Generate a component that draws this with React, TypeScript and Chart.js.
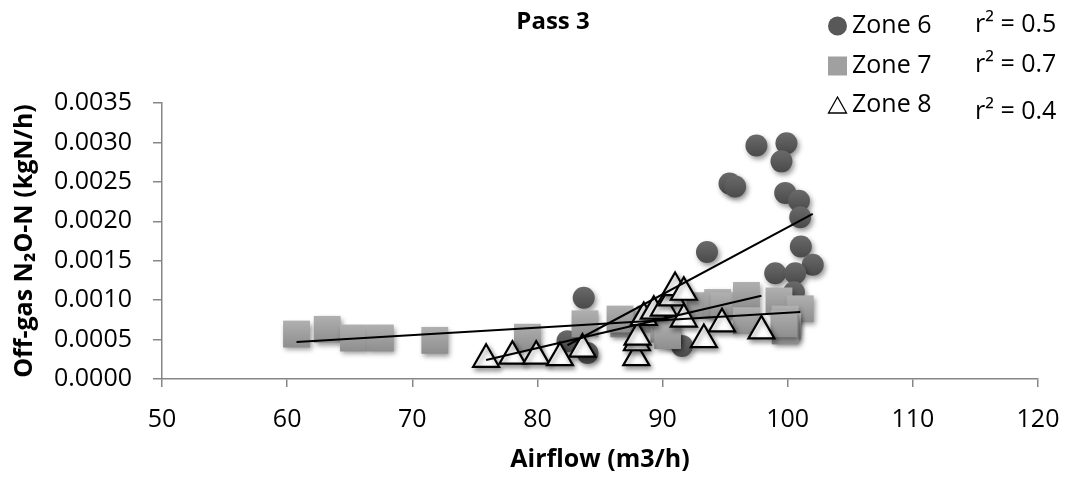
import React, { useEffect, useRef } from "react";
import { Chart, registerables } from "chart.js";

Chart.register(...registerables);

// ---------- data ----------
const zone6X = [97.5, 99.9, 99.5, 95.35, 95.8, 99.8, 100.9, 101.0, 101.05, 93.55, 102.0, 99.0, 100.6, 100.5, 83.7, 82.4, 84.0, 91.55, 90.6];
const zone6Y = [0.00296, 0.00299, 0.00276, 0.00248, 0.00244, 0.00236, 0.00226, 0.00205, 0.00168, 0.00161, 0.00145, 0.00134, 0.00134, 0.0011, 0.00103, 0.00048, 0.00033, 0.00042, 0.00053];

const zone7X = [60.75, 63.2, 65.3, 67.45, 71.8, 79.2, 83.8, 86.9, 86.6, 89.0, 90.1, 90.4, 93.0, 94.4, 94.9, 96.7, 96.7, 99.3, 101.0, 99.8, 100.0, 99.8, 99.7];
const zone7Y = [0.00057, 0.00063, 0.00052, 0.00052, 0.00049, 0.00053, 0.0007, 0.0007, 0.00076, 0.00076, 0.00063, 0.00055, 0.00093, 0.00097, 0.00093, 0.00106, 0.00074, 0.00099, 0.00089, 0.00076, 0.00067, 0.00061, 0.0007];

const zone8X = [75.9, 78.0, 79.9, 81.8, 83.6, 87.9, 87.95, 88.0, 88.5, 89.3, 90.1, 90.75, 91.0, 91.7, 91.7, 93.3, 94.75, 97.9];
const zone8Y = [0.00025, 0.00029, 0.00029, 0.00027, 0.00038, 0.00027, 0.00046, 0.00053, 0.00078, 0.00086, 0.0009, 0.00103, 0.00116, 0.0011, 0.00076, 0.0005, 0.0007, 0.00061];

// linear trendline coefficients (y = slope * x + intercept)
const trendSlopes = [8.5e-5, 9.45e-6, 3.71e-5];
const trendIntercepts = [-0.006576, -0.000104, -0.002576];

const seriesNames = ["Zone 6", "Zone 7", "Zone 8"];
const r2Labels = ["r\u00B2 = 0.5", "r\u00B2 = 0.7", "r\u00B2 = 0.4"];

const xTicks = [50, 60, 70, 80, 90, 100, 110, 120];
const yTicks = [0, 0.0005, 0.001, 0.0015, 0.002, 0.0025, 0.003, 0.0035];
const yTickLabels = ["0.0000", "0.0005", "0.0010", "0.0015", "0.0020", "0.0025", "0.0030", "0.0035"];

const chartTitle = "Pass 3";
const xTitle = "Airflow (m3/h)";
const yTitle = "Off-gas N\u2082O-N (kgN/h)";

// ---------- styles ----------
const FONT = "'Open Sans', 'Noto Sans', sans-serif";
const AXIS_COLOR = "#868686";
const C6 = "#585858";
const C6_TOP = "#6a6a6a";
const C6_BOTTOM = "#4a4a4a";
const C7 = "#a0a0a0";
const C7_TOP = "#b0b0b0";
const C7_BOTTOM = "#8e8e8e";

const toPoints = (xs: number[], ys: number[]) => xs.map((x, i) => ({ x, y: ys[i] }));

const trendPoints = (xs: number[], k: number) => {
  const lo = Math.min(...xs);
  const hi = Math.max(...xs);
  return [
    { x: lo, y: trendSlopes[k] * lo + trendIntercepts[k] },
    { x: hi, y: trendSlopes[k] * hi + trendIntercepts[k] },
  ];
};

// vertical gradient fill for a marker, positioned at the point's pixel
const gradientFill = (top: string, bottom: string, fallback: string, half: number) => (c: any) => {
  const chart = c.chart;
  if (!c.parsed || !chart.scales || !chart.scales.y) return fallback;
  const py = chart.scales.y.getPixelForValue(c.parsed.y);
  if (!isFinite(py)) return fallback;
  const g = chart.ctx.createLinearGradient(0, py - half, 0, py + half);
  g.addColorStop(0, top);
  g.addColorStop(1, bottom);
  return g;
};

const shadowPlugin = {
  id: "markerShadow",
  beforeDatasetDraw(chart: any, args: any) {
    const ds = chart.data.datasets[args.index];
    if (ds.shadow) {
      const ctx = chart.ctx;
      ctx.save();
      ctx.shadowColor = "rgba(0,0,0,0.4)";
      ctx.shadowBlur = 5;
      ctx.shadowOffsetX = 2;
      ctx.shadowOffsetY = 3;
    }
  },
  afterDatasetDraw(chart: any, args: any) {
    const ds = chart.data.datasets[args.index];
    if (ds.shadow) chart.ctx.restore();
  },
};

const decorPlugin = {
  id: "decor",
  afterDraw(chart: any) {
    const ctx = chart.ctx as CanvasRenderingContext2D;
    ctx.save();
    // title
    ctx.fillStyle = "#000";
    ctx.font = `bold 24px ${FONT}`;
    ctx.textAlign = "center";
    ctx.textBaseline = "middle";
    ctx.fillText(chartTitle, 553, 22);

    // legend
    const rowY = [26, 66, 105];
    const r2Y = [25, 65, 112];
    const mx = 837.5;
    ctx.fillStyle = C6;
    ctx.beginPath();
    ctx.arc(mx, rowY[0], 9.5, 0, Math.PI * 2);
    ctx.fill();
    ctx.fillStyle = C7;
    ctx.fillRect(mx - 9.5, rowY[1] - 9.5, 19, 19);
    ctx.fillStyle = "#fff";
    ctx.strokeStyle = "#000";
    ctx.lineWidth = 1.3;
    ctx.beginPath();
    ctx.moveTo(mx, rowY[2] - 8);
    ctx.lineTo(mx + 9, rowY[2] + 8);
    ctx.lineTo(mx - 9, rowY[2] + 8);
    ctx.closePath();
    ctx.fill();
    ctx.stroke();

    ctx.fillStyle = "#000";
    ctx.font = `25px ${FONT}`;
    ctx.textAlign = "left";
    seriesNames.forEach((n, i) => ctx.fillText(n, 852, rowY[i]));
    r2Labels.forEach((t, i) => ctx.fillText(t, 975, r2Y[i]));
    ctx.restore();
  },
};

export default function App() {
  const ref = useRef<HTMLCanvasElement | null>(null);

  useEffect(() => {
    if (!ref.current) return;
    const chart = new Chart(ref.current, {
      type: "scatter",
      data: {
        datasets: [
          { label: "Zone 6 trend", data: trendPoints(zone6X, 0), showLine: true, borderColor: "#000", borderWidth: 2, pointRadius: 0, order: 0 },
          { label: "Zone 7 trend", data: trendPoints(zone7X, 1), showLine: true, borderColor: "#000", borderWidth: 2, pointRadius: 0, order: 0 },
          { label: "Zone 8 trend", data: trendPoints(zone8X, 2), showLine: true, borderColor: "#000", borderWidth: 2, pointRadius: 0, order: 0 },
          {
            label: seriesNames[2],
            data: toPoints(zone8X, zone8Y),
            pointStyle: "triangle",
            pointRadius: 15,
            backgroundColor: "#fff",
            borderColor: "#000",
            borderWidth: 2.2,
            order: 1,
            shadow: true,
          } as any,
          {
            label: seriesNames[1],
            data: toPoints(zone7X, zone7Y),
            pointStyle: "rect",
            pointRadius: 19,
            backgroundColor: gradientFill(C7_TOP, C7_BOTTOM, C7, 13.5),
            borderWidth: 0,
            order: 2,
            shadow: true,
          } as any,
          {
            label: seriesNames[0],
            data: toPoints(zone6X, zone6Y),
            pointStyle: "circle",
            pointRadius: 11,
            backgroundColor: gradientFill(C6_TOP, C6_BOTTOM, C6, 11),
            borderWidth: 0,
            order: 3,
            shadow: true,
          } as any,
        ],
      },
      options: {
        animation: false,
        responsive: false,
        maintainAspectRatio: false,
        layout: { padding: { top: 103, right: 29, left: 0, bottom: 0 } },
        plugins: {
          legend: { display: false },
          title: { display: false },
          tooltip: { enabled: false },
        },
        scales: {
          x: {
            type: "linear",
            position: "bottom",
            min: 50,
            max: 120,
            afterBuildTicks: (s: any) => {
              s.ticks = xTicks.map((v) => ({ value: v }));
            },
            afterFit: (s: any) => {
              s.height = 100;
              s.paddingLeft = 0;
              s.paddingRight = 0;
            },
            ticks: {
              color: "#000",
              font: { family: FONT, size: 25 },
              padding: 18,
              maxRotation: 0,
              autoSkip: false,
            },
            grid: { drawOnChartArea: false, drawTicks: true, tickLength: 8, color: AXIS_COLOR, lineWidth: 1.5 },
            border: { display: true, color: AXIS_COLOR, width: 1.5 },
            title: {
              display: true,
              text: xTitle,
              color: "#000",
              font: { family: FONT, size: 25, weight: "bold" },
              padding: { top: 0, bottom: 4 },
            },
          },
          y: {
            type: "linear",
            min: 0,
            max: 0.0035,
            afterBuildTicks: (s: any) => {
              s.ticks = yTicks.map((v) => ({ value: v }));
            },
            afterFit: (s: any) => {
              s.width = 162;
              s.paddingTop = 0;
              s.paddingBottom = 0;
            },
            ticks: {
              color: "#000",
              font: { family: FONT, size: 25 },
              padding: 21,
              autoSkip: false,
              callback: (_v: any, i: number) => yTickLabels[i],
            },
            grid: { drawOnChartArea: false, drawTicks: true, tickLength: 9, color: AXIS_COLOR, lineWidth: 1.5 },
            border: { display: true, color: AXIS_COLOR, width: 1.5 },
            title: {
              display: true,
              text: yTitle,
              color: "#000",
              font: { family: FONT, size: 25, weight: "bold" },
              padding: { top: 10, bottom: 0 },
            },
          },
        },
      },
      plugins: [shadowPlugin, decorPlugin],
    } as any);
    return () => chart.destroy();
  }, []);

  return (
    <div style={{ position: "absolute", left: 0, top: 0, width: 1067, height: 479, background: "#fff" }}>
      <canvas ref={ref} width={1067} height={479} style={{ display: "block" }} />
    </div>
  );
}
